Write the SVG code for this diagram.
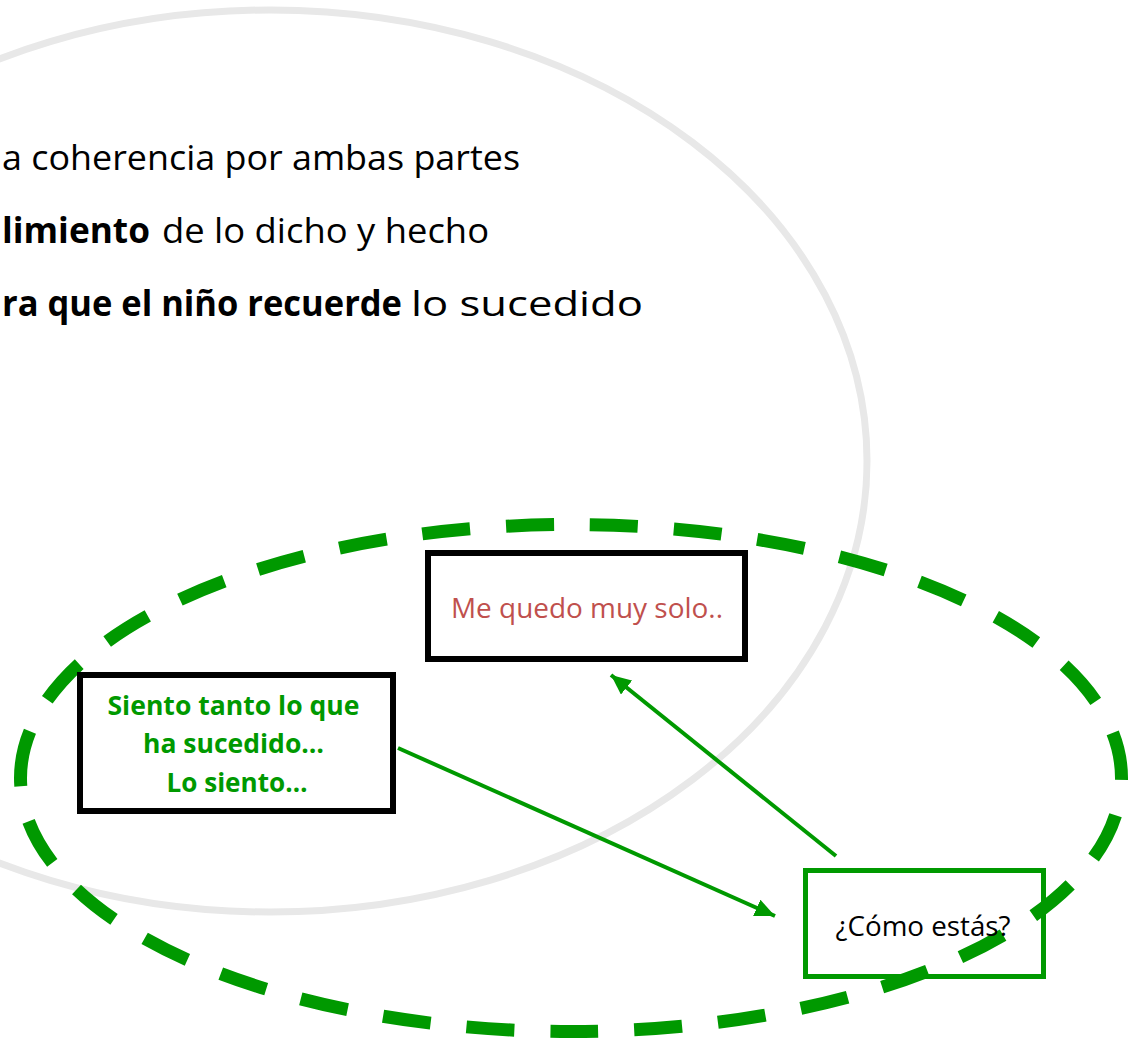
<svg xmlns="http://www.w3.org/2000/svg" width="1131" height="1062" viewBox="0 0 1131 1062">
<style>
.big{font-family:"Open Sans","Noto Sans",sans-serif;font-size:35px;fill:#000}
.b{font-weight:bold}
.box{fill:#fff;stroke:#000;stroke-width:6}
.gbox{fill:none;stroke:#009900;stroke-width:5}
.lbl{font-family:"Open Sans","Noto Sans",sans-serif;font-size:27px;text-anchor:middle}
.conn{stroke:#009900;stroke-width:4;fill:none}
</style>
<defs>
<marker id="ah" markerUnits="userSpaceOnUse" markerWidth="22" markerHeight="18" refX="20" refY="9" orient="auto">
<path d="M0,0 L20,9 L0,18 z" fill="#009900"/>
</marker>
</defs>
<rect width="1131" height="1062" fill="#fff"/>
<g id="background">
<ellipse cx="270" cy="461" rx="597" ry="451" fill="none" stroke="#e8e8e8" stroke-width="7"/>
<path d="M20.5,778 A550.5,253.5 0 0 1 1121.5,778 A550.5,253.5 0 0 1 20.5,778 Z" fill="none" stroke="#009900" stroke-width="13" stroke-dasharray="48 36"/>
</g>
<g id="text-list">
<text class="big" x="2" y="170" textLength="518" lengthAdjust="spacingAndGlyphs">a coherencia por ambas partes</text>
<text class="big b" x="2" y="243" textLength="148" lengthAdjust="spacingAndGlyphs">limiento</text>
<text class="big" x="162" y="243" textLength="327" lengthAdjust="spacingAndGlyphs">de lo dicho y hecho</text>
<text class="big b" x="2" y="316" textLength="400" lengthAdjust="spacingAndGlyphs">ra que el niño recuerde</text>
<text class="big" x="411" y="316" textLength="232" lengthAdjust="spacingAndGlyphs">lo sucedido</text>
</g>
<g id="node-siento">
<rect class="box" x="80" y="675" width="313" height="136"/>
<text class="lbl b" fill="#009900" font-size="25">
<tspan x="237" y="715" textLength="252" lengthAdjust="spacingAndGlyphs">Siento tanto lo que</tspan>
<tspan x="237" y="753" textLength="181" lengthAdjust="spacingAndGlyphs">ha sucedido…</tspan>
<tspan x="237" y="792" textLength="141" lengthAdjust="spacingAndGlyphs">Lo siento…</tspan>
</text>
</g>
<g id="node-solo">
<rect class="box" x="428" y="553" width="317" height="106"/>
<text class="lbl" x="587" y="618" fill="#c0504d" textLength="272" lengthAdjust="spacingAndGlyphs">Me quedo muy solo..</text>
</g>
<g id="node-como">
<rect class="gbox" x="805.5" y="870.5" width="238" height="106"/>
<text class="lbl" x="923" y="936" fill="#000" textLength="175" lengthAdjust="spacingAndGlyphs">¿Cómo estás?</text>
</g>
<g id="connectors">
<line class="conn" x1="398" y1="748" x2="775" y2="916" marker-end="url(#ah)"/>
<line class="conn" x1="836" y1="856" x2="611" y2="675" marker-end="url(#ah)"/>
</g>
</svg>
